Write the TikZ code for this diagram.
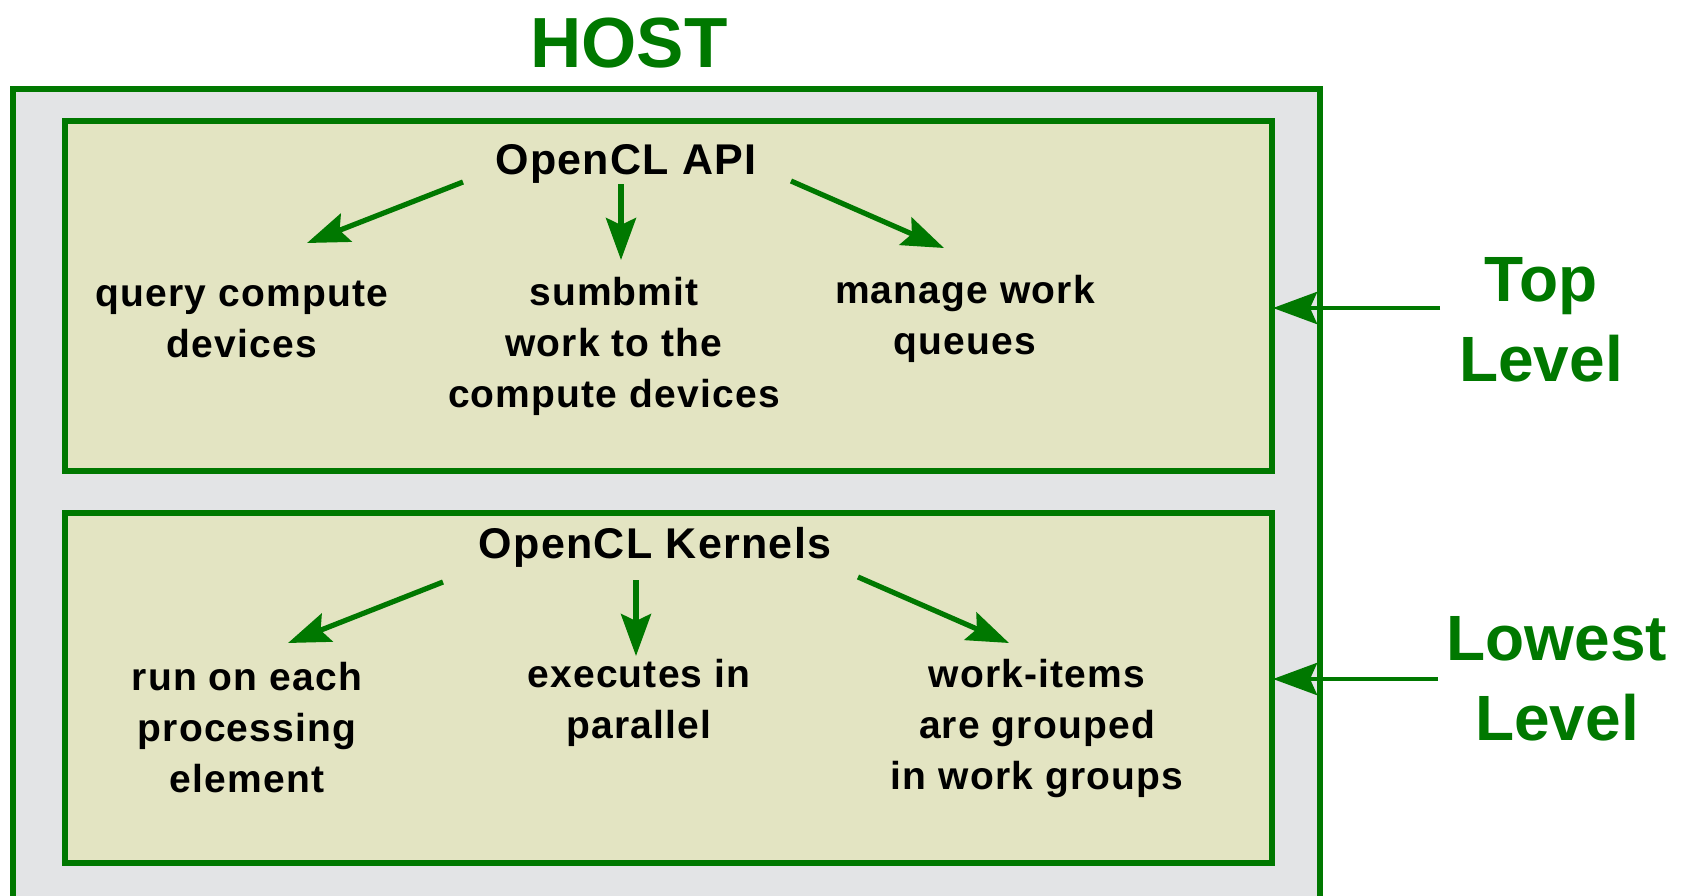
\documentclass[tikz,border=0pt]{standalone}
\usepackage{fontspec}
\setmainfont{Liberation Sans}
\newfontfamily\labfont{Liberation Sans}[LetterSpace=3.0]
\usetikzlibrary{arrows.meta}
\definecolor{hgreen}{RGB}{0,120,0}
\definecolor{hostgray}{RGB}{227,228,230}
\definecolor{layerfill}{RGB}{227,228,194}
\tikzset{
  hostbox/.style={draw=hgreen, line width=2.6pt, fill=hostgray},
  layerbox/.style={draw=hgreen, line width=2.7pt, fill=layerfill},
  itemtext/.style={inner sep=0pt, align=center, text=black,
    font=\labfont\bfseries\fontsize{19.5}{25.5}\selectfont},
  titletext/.style={inner sep=0pt, text=black,
    font=\labfont\bfseries\fontsize{21.5}{25.5}\selectfont},
  bigtext/.style={inner sep=0pt, align=center, text=hgreen,
    font=\bfseries\fontsize{32}{40}\selectfont},
  flow/.style={draw=hgreen, line width=2.6pt,
    -{Stealth[length=21pt, width=15pt, inset=3.5pt]}},
  pointer/.style={draw=hgreen, line width=2.4pt,
    -{Stealth[length=22pt, width=16pt, inset=3.5pt]}}
}
\begin{document}
\begin{tikzpicture}[x=0.5pt, y=-0.5pt]
\useasboundingbox (0,0) rectangle (1687,895);

% host frame and its title
\path[hostbox] (13,89) rectangle (1320,900);
\node[inner sep=0pt, text=hgreen, font=\bfseries\fontsize{35.5}{40}\selectfont] (host) at (629,43) {HOST};

% the two layers
\path[layerbox] (65,121) rectangle (1272,471);
\path[layerbox] (65,513) rectangle (1272,863);
\coordinate (topedge) at (1273,308);
\coordinate (lowedge) at (1273,679);

% top layer: OpenCL API
\node[titletext] (api) at (626,164) {OpenCL API};
\node[itemtext] (query) at (242,319) {query compute\\devices};
\node[itemtext] (submit) at (614,346) {sumbmit\\work to the\\compute devices};
\node[itemtext] (manage) at (965,319) {manage work\\queues};

\coordinate (a1s) at (463,182);
\coordinate (a1e) at (307,243);
\coordinate (a2s) at (621,184);
\coordinate (a2e) at (621,260);
\coordinate (a3s) at (791,181);
\coordinate (a3e) at (944,248);
\draw[flow] (a1s) -- (a1e);
\draw[flow] (a2s) -- (a2e);
\draw[flow] (a3s) -- (a3e);

% lower layer: OpenCL Kernels
\node[titletext] (kern) at (655,547) {OpenCL Kernels};
\node[itemtext] (runon) at (247,728) {run on each\\processing\\element};
\node[itemtext] (exec) at (639,703) {executes in\\parallel};
\node[itemtext] (groups) at (1037,728) {work-items\\are grouped\\in work groups};

\coordinate (b1s) at (443,582);
\coordinate (b1e) at (288,643);
\coordinate (b2s) at (636,580);
\coordinate (b2e) at (636,656);
\coordinate (b3s) at (858,577);
\coordinate (b3e) at (1009,643);
\draw[flow] (b1s) -- (b1e);
\draw[flow] (b2s) -- (b2e);
\draw[flow] (b3s) -- (b3e);

% level labels on the right
\node[bigtext] (toplvl) at (1541,320) {Top\\Level};
\node[bigtext] (lowlvl) at (1557,679) {Lowest\\Level};
\coordinate (tops) at (1440,308);
\coordinate (lows) at (1438,679);
\draw[pointer] (tops) -- (topedge);
\draw[pointer] (lows) -- (lowedge);
\end{tikzpicture}
\end{document}
